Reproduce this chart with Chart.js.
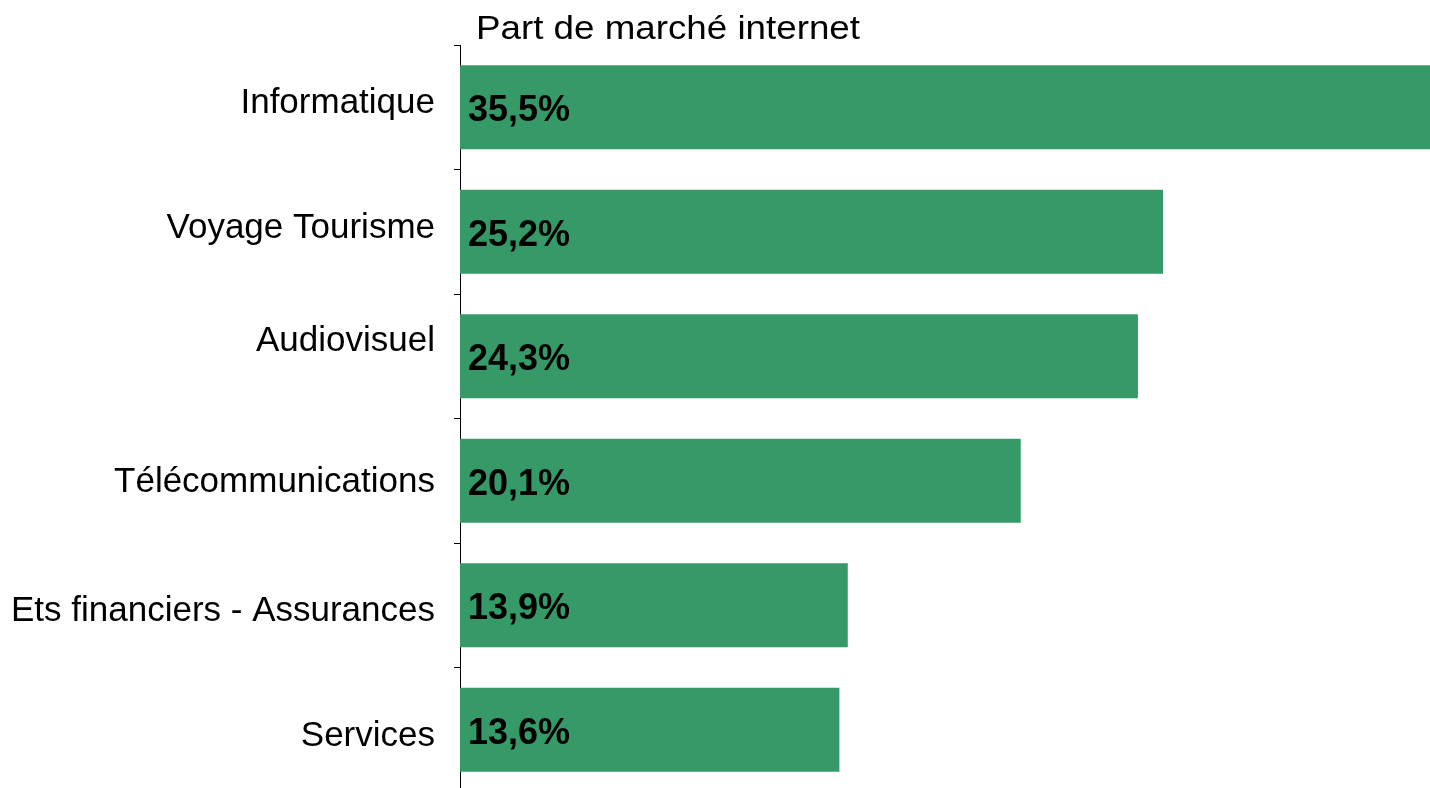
<!DOCTYPE html>
<html>
<head>
<meta charset="utf-8">
<script src="https://cdn.jsdelivr.net/npm/chart.js@4"></script>
<style>
  html, body { margin: 0; padding: 0; background: #fff; overflow: hidden; }
  canvas { display: block; }
</style>
</head>
<body>
<canvas id="barChart" width="1430" height="792"></canvas>
<script>
// Sectors and their internet market share (%)
const sectors = ["Informatique", "Voyage Tourisme", "Audiovisuel", "Télécommunications", "Ets financiers - Assurances", "Services"];
const shares = [35.5, 25.2, 24.3, 20.1, 13.9, 13.6];
const chartTitle = "Part de marché internet";

const FONT = "'Liberation Sans', Arial, sans-serif";

// baseline of each sector name, measured from the centre of its row
const nameBaseline = [6, 6, -5, 11, 16, 16];

// Draws the title, the sector names and the value inside each bar
const labelPlugin = {
    id: "barLabels",
    afterDatasetsDraw(chart) {
        const ctx = chart.ctx;
        const area = chart.chartArea;
        const yScale = chart.scales.y;
        ctx.save();
        ctx.fillStyle = "#000";
        ctx.textBaseline = "alphabetic";

        // title is a bit wider than its height suggests
        ctx.textAlign = "left";
        ctx.font = "34px " + FONT;
        const w = ctx.measureText(chartTitle).width;
        ctx.save();
        ctx.translate(area.left + 16, 39);
        ctx.scale(384 / w, 1);
        ctx.fillText(chartTitle, 0, 0);
        ctx.restore();

        // sector names, right aligned against the axis
        ctx.textAlign = "right";
        ctx.font = "35px " + FONT;
        sectors.forEach((name, i) => {
            ctx.fillText(name, area.left - 25, yScale.getPixelForValue(i) + nameBaseline[i]);
        });

        // values inside the bars
        ctx.textAlign = "left";
        ctx.font = "bold 36px " + FONT;
        chart.getDatasetMeta(0).data.forEach((bar, i) => {
            const txt = shares[i].toFixed(1).replace(".", ",") + "%";
            ctx.fillText(txt, bar.base + 8, bar.y + 14);
        });
        ctx.restore();
    }
};

new Chart(document.getElementById("barChart").getContext("2d"), {
    type: "bar",
    data: {
        labels: sectors,
        datasets: [{
            data: shares,
            backgroundColor: "#359a67",
            borderWidth: 0,
            barPercentage: 0.675,
            categoryPercentage: 1
        }]
    },
    options: {
        indexAxis: "y",
        responsive: false,
        animation: false,
        layout: { padding: { top: 45, right: 0, bottom: 0, left: 0 } },
        plugins: {
            legend: { display: false },
            tooltip: { enabled: false }
        },
        scales: {
            x: {
                display: false,
                min: 0,
                max: 34.77
            },
            y: {
                afterFit(scale) {
                    scale.width = 460;
                    scale.paddingTop = 0;
                    scale.paddingBottom = 0;
                },
                border: { display: true, color: "#000", width: 1 },
                grid: {
                    offset: true,
                    drawOnChartArea: false,
                    drawTicks: true,
                    tickLength: 6,
                    color: "#000"
                },
                ticks: { display: false }
            }
        }
    },
    plugins: [labelPlugin]
});
</script>
</body>
</html>
